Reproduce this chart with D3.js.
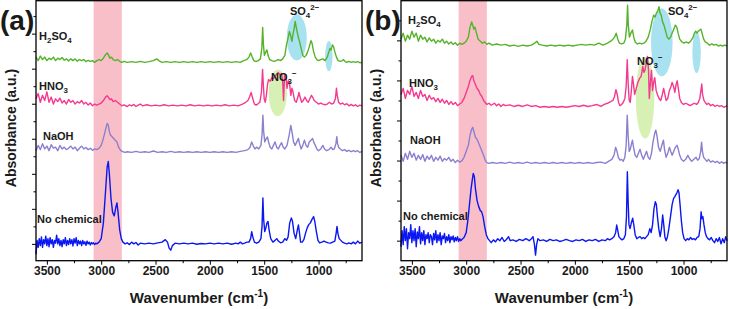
<!DOCTYPE html>
<html>
<head>
<meta charset="utf-8">
<script src="https://cdn.jsdelivr.net/npm/d3@7"></script>
<style>
  body { margin: 0; background: #fff; }
  svg { display: block; }
  text { font-family: "Liberation Sans", Arial, sans-serif; font-weight: bold; fill: #1a1a1a; }
</style>
</head>
<body>
<svg width="729" height="309"></svg>
<script>
// x axis ticks (wavenumber, cm-1)
const xTicks = [3500, 3000, 2500, 2000, 1500, 1000];
const xMinorTicks = [3250, 2750, 2250, 1750, 1250, 750];

// C-H stretching band that is highlighted
const band = [3070, 2810];

// vertical offsets of the stacked spectra (H2SO4, HNO3, NaOH, No chemical)
const offsetsA = [5.18, 3.94, 2.61, 0];
const offsetsB = [4.88, 3.35, 1.93, 0];

// spectra, [wavenumber, absorbance above own baseline]
const h2so4A = [[3600,.15],[3580,.05],[3560,.18],[3540,.08],[3520,.15],[3500,.05],[3480,.12],[3460,.08],[3440,.15],[3420,.05],[3400,.12],[3380,.08],[3360,.14],[3340,.06],[3320,.1],[3300,.04],[3280,.1],[3260,.05],[3240,.1],[3220,.03],[3200,.08],[3180,.05],[3160,.08],[3140,.02],[3120,.06],[3100,.03],[3080,.05],[3060,0],[3040,.05],[3020,.08],[3000,.05],[2980,.12],[2960,.22],[2945,.27],[2935,.22],[2920,.12],[2905,.15],[2890,.08],[2870,.05],[2850,.08],[2830,.03],[2810,0],[2790,.03],[2760,0],[2720,.02],[2680,0],[2640,.03],[2600,0],[2560,.02],[2520,.05],[2490,.1],[2470,.05],[2440,0],[2400,.02],[2360,0],[2320,.02],[2280,0],[2240,.02],[2200,0],[2160,.02],[2120,0],[2080,.02],[2040,0],[2000,.02],[1960,0],[1920,.02],[1880,0],[1840,.02],[1800,0],[1760,.02],[1720,0],[1690,.05],[1660,.08],[1640,.15],[1625,.27],[1610,.15],[1595,.05],[1575,.02],[1555,.05],[1535,.1],[1522,.4],[1514,1.0],[1507,.5],[1498,.2],[1485,.3],[1475,.36],[1465,.2],[1450,.08],[1430,.05],[1410,.03],[1390,.05],[1370,.08],[1350,.05],[1330,.1],[1310,.2],[1295,.5],[1280,.7],[1268,.88],[1255,.75],[1245,.6],[1235,.8],[1225,.95],[1215,1.17],[1205,1.0],[1195,.85],[1185,.7],[1175,.6],[1160,.4],[1145,.2],[1130,.15],[1115,.2],[1100,.3],[1085,.45],[1070,.62],[1060,.55],[1045,.3],[1030,.15],[1015,.08],[1000,.05],[980,.08],[960,.1],[940,.05],[920,.15],[905,.3],[895,.4],[885,.35],[872,.5],[862,.45],[850,.3],[835,.15],[820,.05],[800,.03],[780,.05],[770,.08],[755,.02],[740,0],[720,.03],[700,0],[680,.02],[660,0],[640,.02],[620,-.01],[600,0]];

const hno3A = [[3600,.2],[3580,.35],[3560,.1],[3540,.3],[3520,.15],[3500,.4],[3480,.1],[3460,.25],[3440,.05],[3420,.2],[3400,.12],[3380,.22],[3360,.08],[3340,.15],[3320,.05],[3300,.18],[3280,.1],[3260,.15],[3240,.05],[3220,.12],[3200,.08],[3180,.15],[3160,.05],[3140,.1],[3120,.02],[3100,.08],[3080,0],[3060,.05],[3040,.02],[3020,.05],[3000,.08],[2980,.15],[2960,.25],[2945,.29],[2935,.25],[2920,.18],[2905,.2],[2890,.12],[2870,.15],[2850,.1],[2830,.05],[2810,0],[2790,.03],[2760,-.02],[2740,.03],[2720,0],[2700,.04],[2680,-.02],[2660,.02],[2640,.05],[2620,0],[2580,.03],[2540,0],[2500,.02],[2460,0],[2420,.03],[2380,0],[2340,.02],[2300,0],[2260,.02],[2220,0],[2180,.03],[2140,0],[2100,.02],[2060,0],[2020,.02],[1980,0],[1940,.02],[1900,0],[1860,.03],[1820,0],[1780,.02],[1740,0],[1700,.05],[1670,.1],[1650,.15],[1635,.25],[1620,.38],[1605,.2],[1590,.05],[1575,.02],[1560,.05],[1540,.1],[1525,.4],[1515,1.04],[1508,.6],[1500,.2],[1490,.1],[1480,.3],[1470,.6],[1460,.75],[1445,.7],[1430,.8],[1415,.78],[1400,.85],[1385,.9],[1370,.95],[1355,.88],[1340,.92],[1330,.7],[1322,.15],[1312,.9],[1300,.85],[1290,.5],[1280,.7],[1268,.66],[1255,.3],[1245,.5],[1235,.4],[1220,.15],[1205,.1],[1190,.25],[1180,.38],[1170,.25],[1155,.1],[1140,.15],[1125,.25],[1110,.15],[1095,.1],[1080,.2],[1065,.3],[1055,.25],[1040,.15],[1020,.1],[1000,.05],[980,.08],[960,.05],[940,.03],[920,.05],[900,.1],[880,.05],[860,.08],[845,.2],[835,.5],[828,.3],[815,.1],[800,.05],[780,.08],[760,.03],[740,.06],[720,0],[700,.04],[680,0],[660,.03],[640,-.02],[620,.02],[600,0]];

const naohA = [[3600,.05],[3580,.2],[3560,.08],[3540,.25],[3520,.1],[3500,.18],[3480,.05],[3460,.22],[3440,.12],[3420,.15],[3400,.05],[3380,.2],[3360,.1],[3340,.15],[3320,.08],[3300,.12],[3280,.18],[3260,.1],[3240,.15],[3220,.05],[3200,.12],[3180,.18],[3160,.1],[3140,.14],[3120,.08],[3100,.12],[3080,.06],[3060,.1],[3040,.08],[3020,.12],[3000,.2],[2980,.4],[2960,.65],[2945,.83],[2935,.78],[2925,.6],[2915,.5],[2900,.45],[2885,.4],[2870,.35],[2855,.3],[2840,.15],[2820,.05],[2800,.02],[2780,0],[2760,.02],[2720,0],[2680,.03],[2640,0],[2600,.02],[2560,0],[2520,.04],[2480,0],[2440,.02],[2400,0],[2360,.03],[2320,0],[2280,.02],[2240,0],[2200,.02],[2160,0],[2120,.02],[2080,0],[2040,.02],[2000,0],[1960,.02],[1920,0],[1880,.02],[1840,0],[1800,.02],[1760,0],[1720,.03],[1680,.05],[1650,.08],[1630,.15],[1615,.3],[1600,.18],[1585,.1],[1570,.15],[1550,.1],[1530,.2],[1520,.5],[1512,1.06],[1505,.6],[1495,.3],[1480,.4],[1470,.44],[1460,.3],[1445,.15],[1430,.1],[1415,.2],[1400,.3],[1385,.15],[1370,.1],[1355,.2],[1340,.28],[1325,.15],[1310,.1],[1290,.2],[1270,.5],[1255,.77],[1245,.6],[1230,.3],[1215,.2],[1200,.3],[1185,.4],[1175,.25],[1160,.1],[1145,.2],[1130,.35],[1115,.2],[1100,.15],[1085,.3],[1070,.35],[1055,.4],[1045,.3],[1030,.2],[1015,.1],[1000,.05],[980,.1],[960,.2],[945,.1],[925,.05],[905,.08],[885,.15],[870,.08],[855,.1],[840,.25],[832,.45],[825,.25],[815,.15],[800,.1],[780,.05],[760,.08],[740,.03],[720,.06],[700,.02],[680,.05],[660,.02],[640,.05],[620,0],[600,.03]];

const noChemA = [[3600,-.3],[3590,.1],[3580,-.1],[3570,.15],[3560,-.05],[3550,.2],[3540,-.1],[3530,.12],[3520,0],[3510,.22],[3500,-.05],[3490,.15],[3480,-.08],[3470,.18],[3460,0],[3450,.12],[3440,-.1],[3430,.1],[3420,.02],[3410,.25],[3400,0],[3390,.15],[3380,-.05],[3370,.1],[3360,-.08],[3350,.12],[3340,0],[3330,.18],[3320,-.05],[3310,.1],[3300,-.02],[3290,.15],[3280,0],[3270,.12],[3260,-.06],[3250,.15],[3240,.02],[3230,.18],[3220,-.05],[3210,.1],[3200,0],[3190,.08],[3180,-.05],[3170,.1],[3160,0],[3150,.06],[3140,-.04],[3130,.08],[3120,0],[3110,.05],[3100,-.03],[3090,.04],[3080,0],[3070,.03],[3060,-.02],[3050,.02],[3040,0],[3020,.05],[3000,.15],[2980,.6],[2960,1.5],[2945,2.2],[2935,2.35],[2925,2.0],[2910,1.3],[2895,.9],[2880,.8],[2865,1.05],[2855,1.17],[2845,.9],[2830,.4],[2815,.15],[2800,.05],[2780,0],[2760,.03],[2740,-.02],[2720,.05],[2700,0],[2680,.04],[2660,-.03],[2640,.02],[2600,0],[2560,.02],[2520,0],[2480,.03],[2440,.05],[2410,.12],[2390,.05],[2375,-.12],[2360,-.18],[2345,-.05],[2320,.02],[2280,0],[2240,.02],[2200,0],[2160,.02],[2120,-.01],[2080,.01],[2040,0],[2000,.02],[1960,0],[1920,.02],[1880,0],[1840,.02],[1800,-.01],[1760,.02],[1740,0],[1720,.05],[1700,0],[1680,.02],[1660,.05],[1640,.05],[1625,.15],[1615,.35],[1605,.2],[1590,.05],[1570,.02],[1550,.05],[1530,.15],[1520,.5],[1512,1.31],[1505,.7],[1495,.35],[1485,.45],[1475,.6],[1465,.64],[1455,.4],[1440,.15],[1420,.05],[1400,.1],[1385,.15],[1370,.08],[1350,.03],[1330,.05],[1310,.15],[1295,.1],[1280,.2],[1265,.6],[1250,.74],[1240,.65],[1225,.3],[1210,.15],[1195,.4],[1185,.54],[1175,.3],[1165,.05],[1150,.05],[1135,.12],[1120,.3],[1105,.45],[1090,.55],[1075,.6],[1060,.7],[1045,.78],[1035,.65],[1020,.35],[1005,.1],[990,.03],[970,.05],[950,.08],[930,.05],[910,.03],[890,.02],[870,.05],[850,.08],[838,.3],[830,.5],[822,.3],[810,.15],[795,.1],[780,.05],[760,.02],[740,0],[720,.03],[700,0],[680,.05],[660,0],[640,.08],[620,.02],[600,.05]];

const h2so4B = [[3600,.15],[3580,.3],[3560,.1],[3540,.25],[3520,.15],[3500,.35],[3480,.2],[3460,.3],[3440,.1],[3420,.25],[3400,.15],[3380,.2],[3360,.08],[3340,.18],[3320,.1],[3300,.15],[3280,.05],[3260,.12],[3240,.08],[3220,.15],[3200,.05],[3180,.1],[3160,.03],[3140,.08],[3120,.02],[3100,.06],[3080,0],[3060,.05],[3040,.02],[3020,.05],[3000,.1],[2980,.2],[2965,.45],[2950,.58],[2940,.5],[2930,.4],[2920,.45],[2905,.3],[2890,.15],[2870,.1],[2850,.05],[2830,.08],[2810,.02],[2790,.05],[2760,0],[2720,.03],[2680,0],[2640,.02],[2600,-.02],[2560,0],[2520,-.03],[2480,0],[2440,-.02],[2400,0],[2370,.05],[2350,.1],[2330,.02],[2300,0],[2260,-.02],[2220,0],[2180,-.02],[2140,0],[2100,-.02],[2060,0],[2020,-.02],[1980,0],[1940,.02],[1900,0],[1860,.02],[1820,0],[1780,.05],[1740,0],[1700,.05],[1670,.1],[1650,.15],[1635,.2],[1620,.3],[1605,.15],[1590,.05],[1570,.03],[1550,.05],[1535,.15],[1522,.5],[1515,1.0],[1508,.5],[1498,.2],[1485,.3],[1470,.38],[1458,.2],[1445,.08],[1425,.03],[1405,.05],[1385,.03],[1365,.05],[1345,.1],[1325,.2],[1305,.4],[1290,.6],[1275,.75],[1262,.7],[1250,.8],[1238,.85],[1226,.96],[1216,.8],[1205,.75],[1195,.6],[1180,.5],[1165,.35],[1150,.2],[1135,.15],[1120,.2],[1105,.3],[1090,.4],[1075,.5],[1062,.45],[1050,.3],[1035,.15],[1015,.08],[995,.05],[975,.08],[955,.05],[935,.1],[915,.18],[900,.3],[888,.35],[876,.3],[864,.35],[850,.38],[840,.4],[830,.3],[815,.15],[800,.08],[780,.05],[760,0],[740,.03],[720,0],[700,.02],[680,-.02],[660,0],[640,-.02],[620,0],[600,-.02]];

const hno3B = [[3600,.3],[3580,.45],[3560,.2],[3540,.4],[3520,.3],[3500,.5],[3480,.25],[3460,.35],[3440,.2],[3420,.4],[3400,.25],[3380,.3],[3360,.15],[3340,.28],[3320,.18],[3300,.22],[3280,.12],[3260,.2],[3240,.1],[3220,.18],[3200,.08],[3180,.15],[3160,.05],[3140,.12],[3120,.05],[3100,.1],[3080,.02],[3060,.06],[3040,.1],[3020,.2],[3000,.35],[2980,.5],[2965,.65],[2950,.75],[2940,.77],[2930,.65],[2915,.55],[2900,.45],[2885,.4],[2870,.3],[2855,.25],[2840,.15],[2825,.1],[2810,.05],[2790,.08],[2770,.03],[2740,.08],[2720,.02],[2700,.06],[2680,0],[2660,.05],[2640,.02],[2600,.04],[2560,0],[2520,.03],[2480,0],[2440,.04],[2400,0],[2360,.02],[2320,-.02],[2280,0],[2240,-.02],[2200,0],[2160,-.02],[2120,0],[2080,-.02],[2040,0],[2000,.02],[1960,0],[1920,.03],[1880,0],[1840,.02],[1800,.05],[1760,0],[1730,.05],[1700,.08],[1670,.12],[1650,.15],[1635,.25],[1622,.42],[1610,.3],[1598,.1],[1585,.02],[1570,.05],[1555,.1],[1540,.2],[1528,.5],[1518,1.17],[1510,.6],[1500,.15],[1490,.1],[1480,.4],[1470,.75],[1460,.55],[1450,.3],[1435,.45],[1420,.6],[1405,.7],[1390,.75],[1375,1.0],[1365,.85],[1355,.9],[1342,1.1],[1332,1.25],[1322,.9],[1315,.2],[1305,.6],[1295,.9],[1285,.4],[1275,.6],[1265,.72],[1252,.4],[1240,.3],[1225,.2],[1210,.15],[1195,.3],[1183,.45],[1172,.3],[1160,.15],[1145,.2],[1130,.4],[1115,.5],[1105,.6],[1092,.5],[1080,.35],[1068,.55],[1058,.64],[1048,.45],[1035,.2],[1020,.1],[1000,.05],[980,.08],[960,.05],[940,.02],[920,.05],[900,.08],[880,.05],[865,.1],[850,.2],[840,.4],[832,.56],[825,.3],[812,.15],[800,.1],[785,.05],[770,.08],[750,.02],[730,.05],[710,0],[690,.03],[670,0],[650,.02],[630,-.02],[610,0],[600,.02]];

const naohB = [[3600,.2],[3580,.05],[3560,.25],[3540,.1],[3520,.3],[3500,.15],[3480,.25],[3460,.08],[3440,.2],[3420,.1],[3400,.22],[3380,.05],[3360,.18],[3340,.1],[3320,.2],[3300,.05],[3280,.15],[3260,.08],[3240,.18],[3220,.05],[3200,.12],[3180,.08],[3160,.15],[3140,.05],[3120,.1],[3100,.02],[3080,.08],[3060,.03],[3040,.06],[3020,.15],[3000,.3],[2980,.45],[2965,.7],[2950,.85],[2940,.9],[2930,.8],[2915,.65],[2900,.6],[2885,.5],[2870,.4],[2855,.3],[2840,.2],[2825,.08],[2810,.02],[2790,0],[2760,.02],[2720,0],[2680,.02],[2640,0],[2600,.03],[2560,0],[2520,.02],[2480,0],[2440,.03],[2400,0],[2360,.02],[2320,0],[2280,.02],[2240,0],[2200,.02],[2160,0],[2120,.02],[2080,0],[2040,.02],[2000,0],[1960,.02],[1920,0],[1880,.02],[1840,0],[1800,.02],[1760,.03],[1720,0],[1690,.05],[1660,.1],[1640,.2],[1625,.4],[1612,.3],[1600,.15],[1585,.08],[1570,.1],[1555,.05],[1540,.15],[1528,.45],[1518,1.2],[1510,.7],[1500,.3],[1490,.35],[1478,.5],[1470,.58],[1460,.4],[1445,.2],[1430,.15],[1415,.25],[1400,.35],[1385,.2],[1370,.1],[1355,.2],[1340,.3],[1325,.15],[1310,.1],[1295,.25],[1280,.55],[1265,.75],[1255,.83],[1245,.7],[1230,.4],[1215,.3],[1200,.45],[1185,.58],[1175,.35],[1160,.15],[1145,.25],[1130,.4],[1118,.3],[1105,.2],[1090,.3],[1075,.4],[1060,.45],[1048,.35],[1035,.2],[1020,.1],[1000,.05],[980,.1],[960,.2],[945,.12],[925,.05],[905,.1],[885,.15],[870,.08],[855,.12],[842,.3],[834,.53],[826,.3],[815,.15],[800,.1],[785,.05],[770,.1],[750,.03],[730,.06],[710,.02],[690,.05],[670,0],[650,.04],[630,0],[610,.03],[600,0]];

const noChemB = [[3600,-.15],[3590,.25],[3580,-.1],[3570,.35],[3560,0],[3550,.3],[3540,-.2],[3530,.2],[3520,.05],[3510,.4],[3500,-.05],[3490,.25],[3480,0],[3470,.3],[3460,-.15],[3450,.22],[3440,.05],[3430,.35],[3420,-.08],[3410,.2],[3400,0],[3390,.25],[3380,-.1],[3370,.15],[3360,.05],[3350,.2],[3340,-.05],[3330,.15],[3320,.1],[3310,-.1],[3300,.18],[3290,.02],[3280,.25],[3270,-.05],[3260,.15],[3250,0],[3240,.2],[3230,-.1],[3220,.12],[3210,.05],[3200,.18],[3190,-.05],[3180,.1],[3170,0],[3160,.15],[3150,-.05],[3140,.1],[3130,.02],[3120,.12],[3110,-.03],[3100,.08],[3090,0],[3080,.1],[3070,-.02],[3060,.05],[3050,0],[3040,.03],[3020,.08],[3000,.2],[2985,.5],[2970,.9],[2955,1.3],[2945,1.5],[2935,1.68],[2925,1.6],[2915,1.3],[2900,1.0],[2885,.85],[2870,.75],[2858,.72],[2845,.6],[2830,.35],[2815,.15],[2800,.05],[2785,0],[2770,-.05],[2750,.02],[2730,-.03],[2710,.05],[2690,0],[2670,.08],[2650,-.02],[2630,.03],[2610,.1],[2595,0],[2570,.02],[2540,-.02],[2510,.03],[2480,0],[2450,.05],[2420,0],[2400,.05],[2385,.1],[2372,-.1],[2362,-.36],[2352,-.1],[2340,.05],[2320,0],[2290,.02],[2260,-.02],[2230,.03],[2200,0],[2170,.02],[2140,-.02],[2110,0],[2080,.03],[2050,0],[2020,-.02],[1990,.02],[1960,0],[1930,.03],[1900,-.02],[1870,.02],[1840,0],[1810,.03],[1780,-.02],[1750,.02],[1720,0],[1700,.05],[1680,.02],[1660,.05],[1640,.1],[1625,.2],[1615,.39],[1605,.25],[1595,.1],[1580,.05],[1565,.02],[1550,.05],[1535,.15],[1525,.6],[1517,1.72],[1510,1.0],[1502,.4],[1492,.3],[1480,.45],[1468,.56],[1458,.4],[1445,.15],[1430,.05],[1415,.08],[1400,.1],[1385,.05],[1370,.08],[1355,.05],[1340,.1],[1325,.15],[1310,.3],[1298,.2],[1285,.4],[1272,.8],[1260,.97],[1250,.9],[1240,.6],[1228,.3],[1215,.1],[1203,.3],[1192,.64],[1182,.4],[1172,.1],[1160,0],[1148,.1],[1135,.3],[1120,.6],[1105,.9],[1092,1.05],[1080,1.1],[1070,1.15],[1060,1.2],[1050,1.27],[1042,1.2],[1032,.9],[1020,.5],[1008,.2],[995,.05],[980,0],[965,.05],[950,.02],[935,.08],[920,.03],[905,.05],[890,.02],[875,.08],[860,.1],[848,.3],[838,.72],[830,.55],[822,.6],[812,.4],[800,.2],[788,.1],[775,.05],[760,.02],[745,.08],[730,0],[715,-.05],[700,.05],[685,-.02],[670,.08],[655,-.08],[640,.05],[625,-.05],[612,.1],[600,0]];

const colors = ['#55b32a', '#f43a8e', '#8a80cf', '#0b17f2'];

const svg = d3.select('svg');

function richText(g, x, y, parts, size) {
    const t = g.append('text').attr('x', x).attr('y', y).attr('font-size', size);
    let shift = 0;
    parts.forEach(([s, k]) => {
        const target = k === 'sub' ? size * 0.3 : k === 'sup' ? -size * 0.4 : 0;
        t.append('tspan')
            .attr('dy', target - shift)
            .attr('font-size', k ? size * 0.72 : size)
            .text(s);
        shift = target;
    });
    return t;
}

const seriesLabels = [
    [['H', ''], ['2', 'sub'], ['SO', ''], ['4', 'sub']],
    [['HNO', ''], ['3', 'sub']],
    [['NaOH', '']],
    [['No chemical', '']]
];
const so4Label = [['SO', ''], ['4', 'sub'], ['2\u2212', 'sup']];
const no3Label = [['NO', ''], ['3', 'sub'], ['\u2212', 'sup']];

function drawPanel(p) {
    const top = 0.7, bottom = 260.7;
    const x = d3.scaleLinear().domain([3600, 600]).range([p.left, p.right]);
    const y = d3.scaleLinear().domain(p.yDomain).range([bottom, top]);
    const g = svg.append('g');

    // highlighted band
    g.append('rect')
        .attr('x', x(band[0]))
        .attr('y', top)
        .attr('width', x(band[1]) - x(band[0]))
        .attr('height', bottom - top)
        .attr('fill', '#f9bfc9');

    // ion ellipses
    p.ellipses.forEach(e => {
        g.append('ellipse')
            .attr('cx', x(e[0]))
            .attr('cy', y(e[1]))
            .attr('rx', Math.abs(x(e[0] + e[2]) - x(e[0])))
            .attr('ry', Math.abs(y(e[1] + e[3]) - y(e[1])))
            .attr('fill', e[4]);
    });

    const line = off => d3.line()
        .x(d => x(d[0]))
        .y(d => y(d[1] + off));

    p.series.forEach((s, i) => {
        g.append('path')
            .datum(s)
            .attr('fill', 'none')
            .attr('stroke', colors[i])
            .attr('stroke-width', 1.4)
            .attr('stroke-linejoin', 'round')
            .attr('d', line(p.offsets[i]));
    });

    p.labelPos.forEach((pos, i) => {
        richText(g, x(pos[0]), y(pos[1]), seriesLabels[i], 11);
    });
    richText(g, x(p.so4Pos[0]), y(p.so4Pos[1]), so4Label, 11);
    richText(g, x(p.no3Pos[0]), y(p.no3Pos[1]), no3Label, 11);

    // axes
    const xAxis = g.append('g')
        .attr('transform', `translate(0, ${bottom})`)
        .call(d3.axisBottom(x).tickValues(xTicks).tickSize(4).tickPadding(2).tickFormat(d3.format('d')));
    xAxis.selectAll('text').attr('font-size', 12).attr('fill', '#1a1a1a');
    g.append('g')
        .attr('transform', `translate(0, ${bottom})`)
        .call(d3.axisBottom(x).tickValues(xMinorTicks).tickSize(2.5).tickFormat(''));
    g.append('g')
        .attr('transform', `translate(${p.left}, 0)`)
        .call(d3.axisLeft(y).tickValues(p.yMajor).tickSize(4).tickFormat(''));
    g.append('g')
        .attr('transform', `translate(${p.left}, 0)`)
        .call(d3.axisLeft(y).tickValues(p.yMinor).tickSize(2.5).tickFormat(''));
    g.selectAll('.domain').remove();
    g.selectAll('.tick line').attr('stroke', '#000').attr('stroke-width', 1);

    g.append('rect')
        .attr('x', p.left)
        .attr('y', top)
        .attr('width', p.right - p.left)
        .attr('height', bottom - top)
        .attr('fill', 'none')
        .attr('stroke', '#000')
        .attr('stroke-width', 1.3);

    // titles
    const xt = g.append('text')
        .attr('x', (p.left + p.right) / 2)
        .attr('y', 303)
        .attr('text-anchor', 'middle')
        .attr('font-size', 15);
    xt.append('tspan').text('Wavenumber (cm');
    xt.append('tspan').attr('dy', -6).attr('font-size', 10).text('-1');
    xt.append('tspan').attr('dy', 6).text(')');

    g.append('text')
        .attr('transform', `translate(${p.left - 20.5}, 128) rotate(-90)`)
        .attr('text-anchor', 'middle')
        .attr('font-size', 14)
        .text('Absorbance (a.u.)');

    g.append('text')
        .attr('x', p.left - 36)
        .attr('y', 30)
        .attr('font-size', 28)
        .text(p.tag);
}

drawPanel({
    tag: '(a)', left: 36, right: 362,
    yDomain: [-0.48, 6.94],
    yMajor: [0, 1, 2, 3, 4, 5, 6],
    yMinor: [0.5, 1.5, 2.5, 3.5, 4.5, 5.5, 6.5],
    offsets: offsetsA,
    series: [h2so4A, hno3A, naohA, noChemA],
    labelPos: [[3572, 5.83], [3572, 4.4], [3536, 2.97], [3591, 0.6]],
    so4Pos: [1263, 6.54],
    no3Pos: [1437, 4.66],
    ellipses: [[1200, 5.89, 92, 0.66, '#a8e2f1'], [905, 5.36, 34, 0.43, '#a8e2f1'], [1375, 4.31, 84, 0.67, '#d7f0b3']]
});

drawPanel({
    tag: '(b)', left: 401, right: 727,
    yDomain: [-0.5, 5.99],
    yMajor: [0, 1, 2, 3, 4, 5],
    yMinor: [0.5, 1.5, 2.5, 3.5, 4.5, 5.5],
    offsets: offsetsB,
    series: [h2so4B, hno3B, naohB, noChemB],
    labelPos: [[3536, 5.42], [3526, 3.84], [3517, 2.42], [3582, 0.52]],
    so4Pos: [1143, 5.64],
    no3Pos: [1428, 4.39],
    ellipses: [[1200, 4.95, 99, 0.85, '#a8e2f1'], [880, 4.7, 39, 0.52, '#a8e2f1'], [1354, 3.57, 85, 1.02, '#d7f0b3']]
});
</script>
</body>
</html>
